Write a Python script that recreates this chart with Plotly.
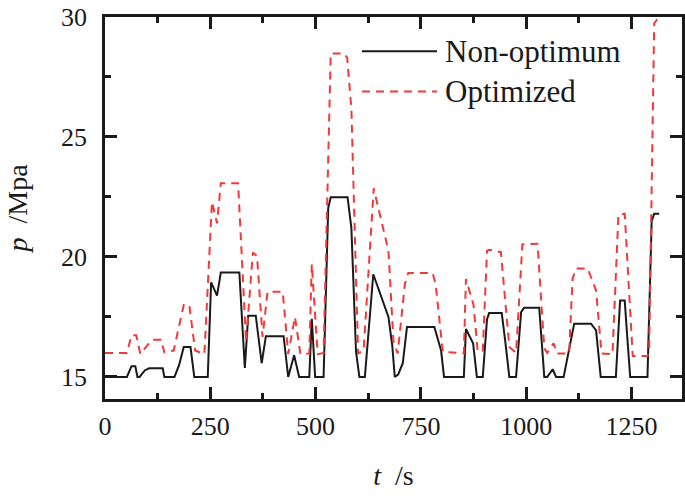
import plotly.graph_objects as go

# ---- data ----
t_non = [0, 52, 63, 72, 77, 82, 95, 105, 137, 141, 165, 176, 187, 203, 212, 244,
         252, 266, 275, 319, 332, 340, 358, 372, 382, 424, 435, 449, 461, 485,
         491, 499, 519, 530, 536, 576, 585, 596, 604, 617, 637, 673, 682, 688,
         696, 707, 717, 782, 798, 805, 852, 857, 874, 883, 897, 907, 912, 942,
         950, 960, 976, 988, 995, 1031, 1043, 1050, 1063, 1071, 1089, 1100, 1114,
         1154, 1166, 1177, 1213, 1223, 1234, 1240, 1247, 1288, 1298, 1304, 1316]
p_non = [15.0, 15.0, 15.45, 15.45, 15.0, 15.0, 15.28, 15.36, 15.36, 15.0, 15.0, 15.5,
         16.25, 16.25, 15.0, 15.0, 18.94, 18.39, 19.35, 19.35, 15.37, 17.55, 17.55,
         15.57, 16.7, 16.7, 15.0, 15.9, 15.0, 15.0, 17.42, 15.0, 15.0, 22.04, 22.49,
         22.49, 21.2, 16.05, 15.0, 15.0, 19.28, 17.5, 16.32, 15.0, 15.1, 15.57,
         17.08, 17.08, 16.1, 15.0, 15.0, 17.0, 16.4, 15.0, 15.0, 17.4, 17.66, 17.66,
         16.53, 15.0, 15.0, 17.7, 17.88, 17.88, 15.0, 15.0, 15.32, 15.0, 15.0, 15.98,
         17.22, 17.22, 16.94, 15.0, 15.0, 18.18, 18.18, 16.67, 15.0, 15.0, 21.49,
         21.8, 21.8]

t_opt = [0, 52, 63, 74, 84, 111, 133, 141, 163, 187, 200, 214, 236, 254, 266, 275,
         316, 335, 351, 361, 374, 386, 422, 435, 451, 464, 485, 491, 505, 519, 536,
         568, 575, 585, 601, 614, 638, 673, 685, 695, 712, 720, 778, 785, 802, 852,
         857, 875, 885, 897, 907, 912, 940, 960, 976, 991, 1027, 1043, 1050, 1065,
         1073, 1102, 1110, 1118, 1146, 1166, 1179, 1205, 1219, 1234, 1253, 1288,
         1292, 1304, 1316]
p_opt = [16.0, 16.0, 16.74, 16.74, 15.95, 16.55, 16.55, 16.02, 16.1, 18.0, 18.0,
         16.1, 15.95, 22.3, 21.4, 23.07, 23.07, 16.46, 20.18, 20.04, 16.67, 18.55,
         18.55, 15.95, 17.5, 15.95, 15.98, 19.7, 15.95, 16.0, 28.48, 28.48, 28.3,
         26.17, 15.98, 16.1, 22.86, 20.25, 16.45, 15.98, 18.87, 19.33, 19.33, 18.87,
         16.05, 15.98, 19.08, 18.0, 16.05, 16.1, 20.25, 20.3, 20.2, 16.25, 16.0,
         20.52, 20.55, 16.2, 16.0, 16.4, 15.98, 15.98, 19.08, 19.52, 19.52, 18.6,
         15.98, 15.95, 21.76, 21.8, 15.87, 15.87, 16.1, 29.74, 30.0]

x_ticks = [0, 250, 500, 750, 1000, 1250]
y_ticks = [15, 20, 25, 30]
names = ["Non-optimum", "Optimized"]
x_range = [0, 1370]
y_range = [14.08, 30]

FONT = "Liberation Serif"
BLACK = "#1a1a1a"
RED = "#f03a3a"

fig = go.Figure()
fig.add_trace(go.Scatter(x=t_non, y=p_non, mode="lines", name=names[0],
                         line=dict(color=BLACK, width=2), showlegend=False))
fig.add_trace(go.Scatter(x=t_opt, y=p_opt, mode="lines", name=names[1],
                         line=dict(color=RED, width=2, dash="8px,6px"), showlegend=False))
# invisible copy on the mirror axes so the top/right frame with ticks is drawn
fig.add_trace(go.Scatter(x=t_non, y=p_non, mode="lines", xaxis="x2", yaxis="y2",
                         opacity=0, hoverinfo="skip", showlegend=False))

tick_common = dict(ticks="inside", ticklen=12, tickwidth=2.5, tickcolor=BLACK,
                   showgrid=False, zeroline=False)
line_common = dict(showline=True, linecolor=BLACK, linewidth=2.5)

x_minor = dict(ticks="inside", ticklen=6, tickwidth=2.5, tickcolor=BLACK,
               dtick=125, tick0=0, showgrid=False)
y_minor = dict(ticks="inside", ticklen=6, tickwidth=2.5, tickcolor=BLACK,
               dtick=2.5, tick0=15, showgrid=False)

fig.update_layout(
    xaxis=dict(range=x_range, tickvals=x_ticks, ticktext=[str(v) for v in x_ticks],
               minor=x_minor, ticklabelstandoff=2,
               tickfont=dict(family=FONT, size=26, color=BLACK),
               title=dict(text="<i>t</i>  /s", font=dict(family=FONT, size=28, color=BLACK),
                          standoff=26),
               **tick_common, **line_common),
    yaxis=dict(range=y_range, tickvals=y_ticks, ticktext=[str(v) for v in y_ticks],
               minor=y_minor, ticklabelstandoff=10,
               tickfont=dict(family=FONT, size=26, color=BLACK),
               title=dict(text="<i>p</i>  /Mpa", font=dict(family=FONT, size=28, color=BLACK),
                          standoff=26),
               **tick_common, **line_common),
    # mirrored tick marks on top and right
    xaxis2=dict(overlaying="x", side="top", range=x_range, tickvals=x_ticks,
                showticklabels=False, minor=x_minor, **tick_common, **line_common),
    yaxis2=dict(overlaying="y", side="right", range=y_range, tickvals=y_ticks,
                showticklabels=False, minor=y_minor, **tick_common, **line_common),
)

# custom legend (long line samples like the reference)
W, H = 577.0, 385.0
L, B = 105.0, 399.0
def px2paper(px, py):
    return (px - L) / W, (B - py) / H

legend_rows = [(names[0], 48.5, dict(color=BLACK, width=2)),
               (names[1], 89.0, dict(color=RED, width=2, dash="8px,6px"))]
for label, py, ln in legend_rows:
    x0, y0 = px2paper(362, py)
    x1, _ = px2paper(437, py)
    fig.add_shape(type="line", xref="paper", yref="paper", x0=x0, x1=x1, y0=y0, y1=y0,
                  line=ln)
    tx, ty = px2paper(443, py)
    fig.add_annotation(xref="paper", yref="paper", x=tx, y=ty, text=label,
                       showarrow=False, xanchor="left", yanchor="middle",
                       font=dict(family=FONT, size=31, color=BLACK))

fig.update_layout(width=685, height=499,
                  margin=dict(l=105, r=3, t=14, b=100),
                  paper_bgcolor="white", plot_bgcolor="white",
                  font=dict(family=FONT, color=BLACK))

fig.write_html("out.html", config={"displayModeBar": False},
               post_script="document.body.style.margin='0';document.body.style.padding='0';")
